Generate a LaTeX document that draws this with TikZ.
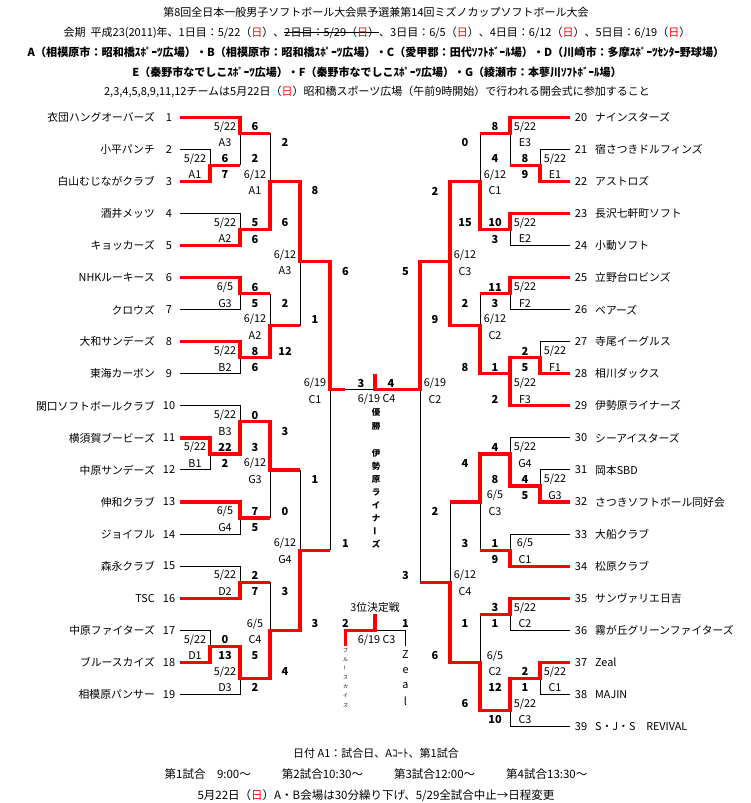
\documentclass[tikz,border=0pt]{standalone}
\usepackage{fontspec}
\setmainfont{Noto Sans CJK JP}
\newcommand\redday{\textcolor{red}{日}}
\newcommand\strk[1]{\setbox0\hbox{#1}\rlap{\rule[0.33em]{\wd0}{0.07em}}\box0}
\tikzset{
  win/.style={red, line width=3.2pt},
  lose/.style={black, line width=1pt},
  teamname/.style={font=\fontsize{10.8}{12}\selectfont, inner sep=0pt},
  teamno/.style={font=\fontsize{11}{12}\selectfont, inner sep=0pt},
  info/.style={font=\fontsize{10.8}{12}\selectfont, inner sep=0pt, yshift=-1.5pt},
  score/.style={font=\fontsize{11}{12}\selectfont\bfseries, inner sep=0pt, yshift=-1.5pt},
  headline/.style={font=\fontsize{11}{13}\selectfont, inner sep=0pt},
  vchar/.style={font=\fontsize{8.5}{9}\selectfont\bfseries, inner sep=0pt},
}

\begin{document}
\begin{tikzpicture}[x=1pt,y=-1pt]
\fill[white] (0,0) rectangle (751,803);
\useasboundingbox (0,0) rectangle (751,803);

\node[headline] (title) at (376,12.5) {第8回全日本一般男子ソフトボール大会県予選兼第14回ミズノカップソフトボール大会};
\node[headline] (period) at (377,32.5) {会期\ \ 平成23(2011)年、1日目：5/22（\redday）、\strk{2日目：5/29（\redday）}、3日目：6/5（\redday）、4日目：6/12（\redday）、5日目：6/19（\redday）};
\node[headline, font=\fontsize{11.1}{13}\selectfont\bfseries] (sitesA) at (376,52.5) {A（相模原市：昭和橋ｽﾎﾟｰﾂ広場）・B（相模原市：昭和橋ｽﾎﾟｰﾂ広場）・C（愛甲郡：田代ｿﾌﾄﾎﾞｰﾙ場）・D（川崎市：多摩ｽﾎﾟｰﾂｾﾝﾀｰ野球場）};
\node[headline, font=\fontsize{11}{13}\selectfont\bfseries] (sitesE) at (377,72) {E（秦野市なでしこｽﾎﾟｰﾂ広場）・F（秦野市なでしこｽﾎﾟｰﾂ広場）・G（綾瀬市：本蓼川ｿﾌﾄﾎﾞｰﾙ場）};
\node[headline] (notice) at (377,92) {2,3,4,5,8,9,11,12チームは5月22日（\redday）昭和橋スポーツ広場（午前9時開始）で行われる開会式に参加すること};

\begin{scope}[shift={(0,117.3)},y=-16.03pt]
\foreach \name [count=\i] in {衣団ハングオーバーズ, 小平パンチ, 白山むじながクラブ, 酒井メッツ, キョッカーズ, NHKルーキース, クロウズ, 大和サンデーズ, 東海カーボン, 関口ソフトボールクラブ, 横須賀ブービーズ, 中原サンデーズ, 伸和クラブ, ジョイフル, 森永クラブ, TSC, 中原ファイターズ, ブルースカイズ, 相模原パンサー}{
  \node[teamname, anchor=east] (tl\i) at (155,2*\i-2) {\name};
  \node[teamno] (nl\i) at (169,2*\i-2) {\i};
}
\foreach \name [count=\i from 20] in {ナインスターズ, 宿さつきドルフィンズ, アストロズ, 長沢七軒町ソフト, 小動ソフト, 立野台ロビンズ, ベアーズ, 寺尾イーグルス, 相川ダックス, 伊勢原ライナーズ, シーアイスターズ, 岡本SBD, さつきソフトボール同好会, 大船クラブ, 松原クラブ, サンヴァリエ日吉, 霧が丘グリーンファイターズ, Zeal, MAJIN, S・J・S　REVIVAL}{
  \node[teamname, anchor=west] (tr\i) at (595,2*\i-40) {\name};
  \node[teamno] (nr\i) at (581,2*\i-40) {\i};
}

\draw[lose] (180,2)--(210,2)--(210,3);
\draw[lose] (240,1)--(240,3);
\draw[lose] (180,6)--(240,6)--(240,7);
\draw[lose] (270,1)--(270,4);
\draw[lose] (180,12)--(240,12)--(240,11);
\draw[lose] (180,16)--(240,16)--(240,15);
\draw[lose] (270,11)--(270,13);
\draw[lose] (300,9)--(300,13);
\draw[lose] (180,18)--(240,18)--(240,19);
\draw[lose] (180,22)--(210,22)--(210,21);
\draw[lose] (180,26)--(240,26)--(240,25);
\draw[lose] (270,22)--(270,25);
\draw[lose] (180,28)--(240,28)--(240,29);
\draw[lose] (180,32)--(210,32)--(210,33);
\draw[lose] (180,36)--(240,36)--(240,35);
\draw[lose] (270,29)--(270,32);
\draw[lose] (300,22)--(300,27);
\draw[lose] (330,17)--(330,27);
\draw[lose] (345,17)--(375,17);
\draw[lose] (570,2)--(540,2)--(540,3);
\draw[lose] (510,1)--(510,3);
\draw[lose] (570,8)--(510,8)--(510,7);
\draw[lose] (480,1)--(480,4);
\draw[lose] (570,12)--(510,12)--(510,11);
\draw[lose] (570,14)--(540,14)--(540,15);
\draw[lose] (480,11)--(480,13);
\draw[lose] (570,20)--(510,20)--(510,21);
\draw[lose] (570,22)--(540,22)--(540,23);
\draw[lose] (570,26)--(510,26)--(510,27);
\draw[lose] (480,24)--(480,27);
\draw[lose] (450,24)--(450,29);
\draw[lose] (420,17)--(420,29);
\draw[lose] (570,32)--(510,32)--(510,31);
\draw[lose] (480,31)--(480,34);
\draw[lose] (570,36)--(540,36)--(540,35);
\draw[lose] (570,38)--(510,38)--(510,37);
\draw[lose] (375,32)--(405.5,32)--(405.5,33);

\draw[win] (180,0)--(240,0)--(240,1)--(270,1);
\draw[win] (180,4)--(210,4)--(210,3)--(240,3);
\draw[win] (180,8)--(240,8)--(240,7)--(270,7)--(270,4)--(300,4)--(300,9)--(330,9)--(330,17)--(345,17);
\draw[win] (180,10)--(240,10)--(240,11)--(270,11);
\draw[win] (180,14)--(240,14)--(240,15)--(270,15)--(270,13)--(300,13);
\draw[win] (180,20)--(210,20)--(210,21)--(240,21)--(240,19)--(270,19)--(270,22)--(300,22);
\draw[win] (180,24)--(240,24)--(240,25)--(270,25);
\draw[win] (180,30)--(240,30)--(240,29)--(270,29);
\draw[win] (180,34)--(210,34)--(210,33)--(240,33)--(240,35)--(270,35)--(270,32)--(300,32)--(300,27)--(330,27);
\draw[win] (570,0)--(510,0)--(510,1)--(480,1);
\draw[win] (570,4)--(540,4)--(540,3)--(510,3);
\draw[win] (570,6)--(510,6)--(510,7)--(480,7)--(480,4)--(450,4)--(450,9);
\draw[win] (570,10)--(510,10)--(510,11)--(480,11);
\draw[win] (570,16)--(540,16)--(540,15)--(510,15)--(510,16);
\draw[win] (570,18)--(510,18)--(510,16)--(480,16)--(480,13)--(450,13)--(450,9)--(420,9)--(420,17)--(375,17)--(375,16);
\draw[win] (570,24)--(540,24)--(540,23)--(510,23)--(510,21)--(480,21)--(480,24)--(450,24);
\draw[win] (570,28)--(510,28)--(510,27)--(480,27);
\draw[win] (570,30)--(510,30)--(510,31)--(480,31);
\draw[win] (570,34)--(540,34)--(540,35)--(510,35)--(510,37)--(480,37)--(480,34)--(450,34)--(450,29)--(420,29);
\draw[win] (375,31)--(375,32)--(345.5,32)--(345.5,33);

\foreach \x/\k/\m/\d/\v [count=\i] in {195/2/5/22/A1, 225/0/5/22/A3, 225/6/5/22/A2, 255/3/6/12/A1, 225/10/6/5/G3, 225/14/5/22/B2, 255/12/6/12/A2, 285/8/6/12/A3, 225/18/5/22/B3, 195/20/5/22/B1, 255/21/6/12/G3, 225/24/6/5/G4, 285/26/6/12/G4, 225/28/5/22/D2, 195/32/5/22/D1, 225/34/5/22/D3, 255/31/6/5/C4, 315/16/6/19/C1, 555/2/5/22/E1, 525/0/5/22/E3, 525/6/5/22/E2, 495/3/6/12/C1, 465/8/6/12/C3, 525/10/5/22/F2, 555/14/5/22/F1, 525/16/5/22/F3, 495/12/6/12/C2, 435/16/6/19/C2, 525/20/5/22/G4, 555/22/5/22/G3, 495/23/6/5/C3, 525/26/6/5/C1, 465/28/6/12/C4, 525/30/5/22/C2, 495/33/6/5/C2, 555/34/5/22/C1, 525/36/5/22/C3}{
  \node[info] (dt\i) at (\x,\k+0.5) {\m/\d};
  \node[info] (vn\i) at (\x,\k+1.5) {\v};
}

\foreach \x/\k/\s [count=\i] in {225/2/6, 225/3/7, 255/0/6, 255/2/2, 255/6/5, 255/7/6, 285/1/2, 285/6/6, 255/10/6, 255/11/5, 255/14/8, 255/15/6, 285/11/2, 285/14/12, 315/4/8, 315/12/1, 255/18/0, 255/20/3, 225/20/22, 225/21/2, 255/24/7, 255/25/5, 285/19/3, 285/24/0, 315/22/1, 315/31/3, 255/28/2, 255/29/7, 225/32/0, 225/33/13, 255/33/5, 255/35/2, 285/29/3, 285/34/4, 345.5/9/6, 345.5/26/1, 361/16/3, 391/16/4, 345.5/31/2, 405.5/31/1, 525/2/8, 525/3/9, 495/0/8, 495/2/4, 495/6/10, 495/7/3, 465/1/0, 465/6/15, 435/4/2, 435/12/9, 405.5/9/5, 405.5/28/3, 495/10/11, 495/11/3, 525/14/2, 525/15/5, 495/15/1, 495/17/2, 465/11/2, 465/15/8, 525/22/4, 525/23/5, 495/20/4, 495/22/8, 465/21/4, 465/26/3, 495/26/1, 495/27/9, 435/24/2, 435/33/6, 495/30/3, 495/31/1, 465/31/1, 465/36/6, 525/34/2, 525/35/1, 495/35/12, 495/37/10}{
  \node[score] (sc\i) at (\x,\k+0.5) {\s};
}

\node[info] (final) at (376.7,17.5) {6/19 C4};
\node[info] (thirdtitle) at (375,30.5) {3位決定戦};
\node[info] (third) at (376.7,32.5) {6/19 C3};
\end{scope}

\foreach \c/\y [count=\i] in {優/412.5, 勝/426.5, 伊/453.3, 勢/466.3, 原/479.3, ラ/492.3, イ/505.3, ナ/518.3, {\rotatebox{90}{ー}}/531.3, ズ/544.3}{
  \node[vchar] (champ\i) at (376,\y) {\c};
}
\foreach \c [count=\i] in {ブ, ル, {\rotatebox{90}{ー}}, ス, カ, イ, ズ}{
  \node[vchar, font=\fontsize{5}{5}\selectfont] (bronzeL\i) at (345.5,650+9.2*\i-9.2) {\c};
}
\foreach \c [count=\i] in {Z, e, a, l}{
  \node[teamname] (bronzeR\i) at (405.5,655+15.3*\i-15.3) {\c};
}

\node[headline] (key) at (376,753.5) {日付 A1：試合日、Aｺｰﾄ、第1試合};
\node[headline, font=\fontsize{11.5}{13}\selectfont] (times) at (376,774.5) {第1試合\hspace{1em}9:00～\hspace{2.7em}第2試合10:30～\hspace{2.7em}第3試合12:00～\hspace{2.7em}第4試合13:30～};
\node[headline, font=\fontsize{11.5}{13}\selectfont] (change) at (376,795.5) {5月22日（\redday）A・B会場は30分繰り下げ、5/29全試合中止→日程変更};
\end{tikzpicture}
\end{document}
